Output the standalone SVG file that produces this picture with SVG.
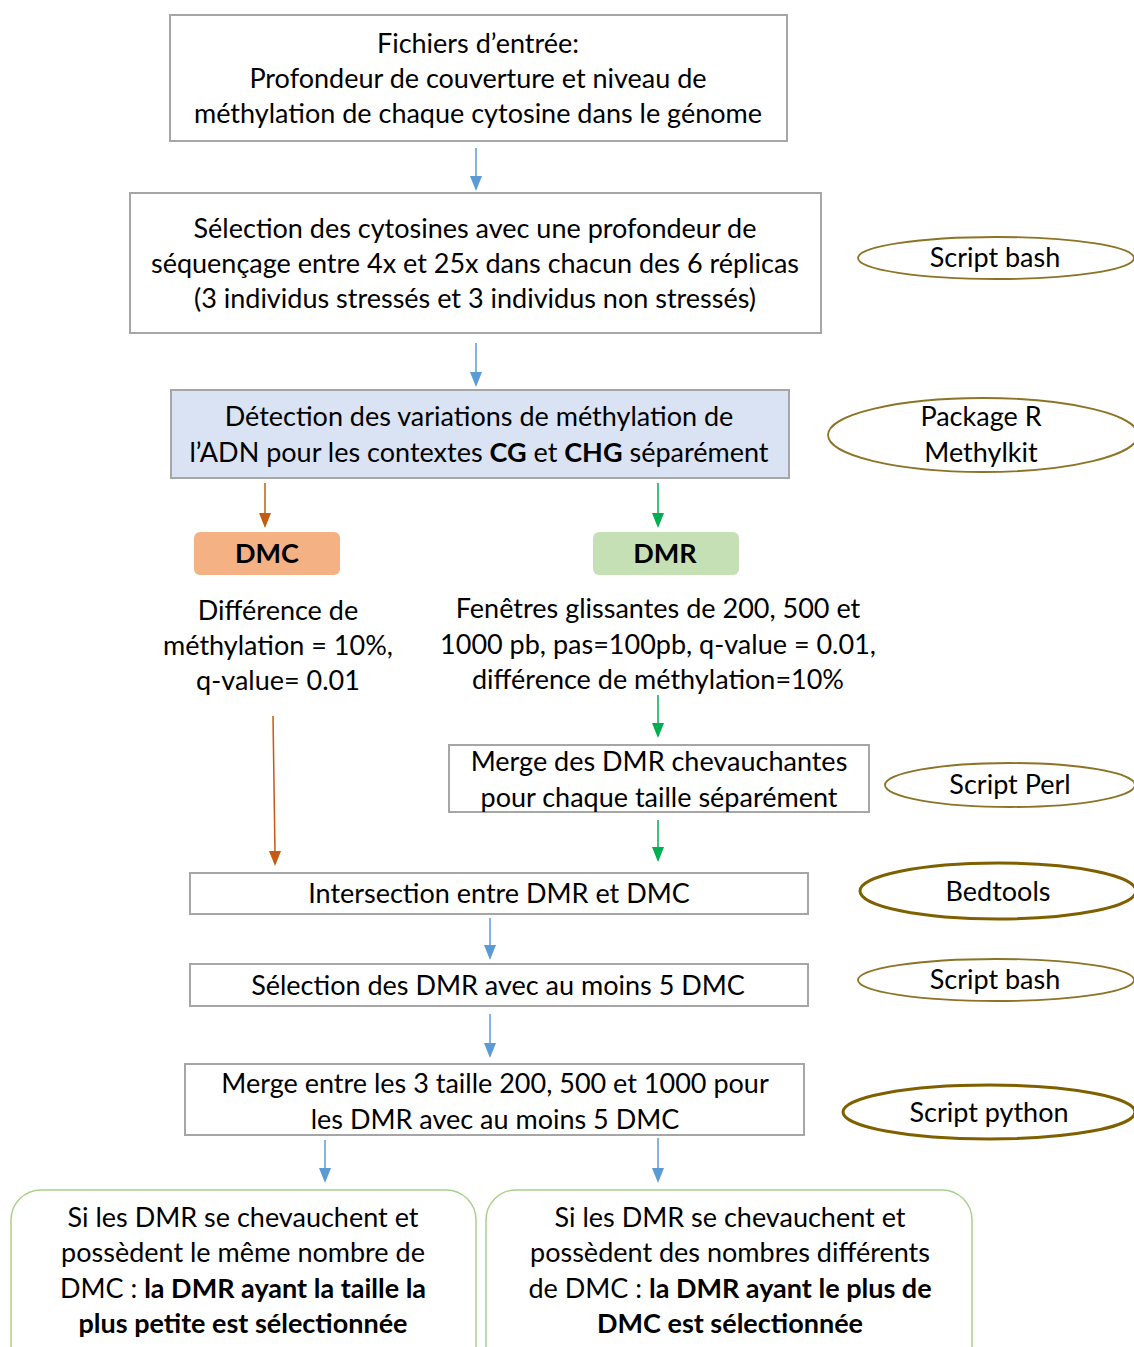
<svg xmlns="http://www.w3.org/2000/svg" width="1134" height="1347" viewBox="0 0 1134 1347">
<style>
text{font-family:Lato,"Liberation Sans",sans-serif;font-size:27px;fill:#000;text-anchor:middle;dominant-baseline:central}
.b{font-weight:bold}
.box{fill:#fff;stroke:#a6a6a6;stroke-width:2}
.ell{fill:#fff;stroke:#8c7326;stroke-width:1.8}
.ellb{fill:#fff;stroke:#7f6000;stroke-width:3}
.blue{stroke:#5b9bd5;stroke-width:1.5;fill:none}
.org{stroke:#c55a11;stroke-width:1.5;fill:none}
.grn{stroke:#00b050;stroke-width:1.5;fill:none}
.res{fill:#fff;stroke:#a9d18e;stroke-width:1.5}
</style>
<rect width="1134" height="1347" fill="#fff"/>
<g id="connectors">
<line class="blue" x1="476" y1="148" x2="476" y2="178"/><polygon points="470,176 482,176 476,191" fill="#5b9bd5"/>
<line class="blue" x1="476" y1="343" x2="476" y2="374"/><polygon points="470,372 482,372 476,387" fill="#5b9bd5"/>
<line class="org" x1="265" y1="483" x2="265" y2="515"/><polygon points="259,513 271,513 265,528" fill="#c55a11"/>
<line class="grn" x1="658" y1="483" x2="658" y2="515"/><polygon points="652,513 664,513 658,528" fill="#00b050"/>
<line class="grn" x1="658" y1="695" x2="658" y2="725"/><polygon points="652,723 664,723 658,738" fill="#00b050"/>
<line class="org" x1="273" y1="716" x2="275" y2="853"/><polygon points="269,851 281,851 275,866" fill="#c55a11"/>
<line class="grn" x1="658" y1="820" x2="658" y2="849"/><polygon points="652,847 664,847 658,862" fill="#00b050"/>
<line class="blue" x1="490" y1="918" x2="490" y2="947"/><polygon points="484,945 496,945 490,960" fill="#5b9bd5"/>
<line class="blue" x1="490" y1="1014" x2="490" y2="1045"/><polygon points="484,1043 496,1043 490,1058" fill="#5b9bd5"/>
<line class="blue" x1="325" y1="1140" x2="325" y2="1170"/><polygon points="319,1168 331,1168 325,1183" fill="#5b9bd5"/>
<line class="blue" x1="658" y1="1138" x2="658" y2="1170"/><polygon points="652,1168 664,1168 658,1183" fill="#5b9bd5"/>
</g>
<g id="n-input">
<rect class="box" x="170" y="15" width="617" height="126"/>
<text x="478" y="42">Fichiers d’entrée:</text>
<text x="478" y="77">Profondeur de couverture et niveau de</text>
<text x="478" y="112">méthylation de chaque cytosine dans le génome</text>
</g>
<g id="n-selection">
<rect class="box" x="130" y="193" width="691" height="140"/>
<text x="475" y="227">Sélection des cytosines avec une profondeur de</text>
<text x="475" y="262">séquençage entre 4x et 25x dans chacun des 6 réplicas</text>
<text x="475" y="297">(3 individus stressés et 3 individus non stressés)</text>
</g>
<g id="t-bash1">
<ellipse class="ell" cx="996" cy="258" rx="138" ry="21"/>
<text x="995" y="256">Script bash</text>
</g>
<g id="n-detection">
<rect x="171" y="390" width="618" height="88" fill="#dae3f3" stroke="#a6a6a6" stroke-width="2"/>
<text x="479" y="415">Détection des variations de méthylation de</text>
<text x="479" y="451">l’ADN pour les contextes <tspan class="b">CG</tspan> et <tspan class="b">CHG</tspan> séparément</text>
</g>
<g id="t-methylkit">
<ellipse class="ell" cx="983" cy="435" rx="155" ry="37"/>
<text x="981" y="415">Package R</text>
<text x="981" y="451">Methylkit</text>
</g>
<g id="n-dmc">
<rect x="194" y="532" width="146" height="43" rx="6" fill="#f4b183"/>
<text class="b" x="267" y="552">DMC</text>
</g>
<g id="n-dmr">
<rect x="593" y="532" width="146" height="43" rx="6" fill="#c5e0b4"/>
<text class="b" x="665" y="552">DMR</text>
</g>
<g id="t-dmc-params">
<text x="278" y="609">Différence de</text>
<text x="278" y="644">méthylation = 10%,</text>
<text x="278" y="679">q-value= 0.01</text>
</g>
<g id="t-dmr-params">
<text x="658" y="607">Fenêtres glissantes de 200, 500 et</text>
<text x="658" y="643">1000 pb, pas=100pb, q-value = 0.01,</text>
<text x="658" y="678">différence de méthylation=10%</text>
</g>
<g id="n-merge-dmr">
<rect class="box" x="449" y="745" width="420" height="67"/>
<text x="659" y="760">Merge des DMR chevauchantes</text>
<text x="659" y="796">pour chaque taille séparément</text>
</g>
<g id="t-perl">
<ellipse class="ell" cx="1010" cy="785" rx="125" ry="22"/>
<text x="1010" y="783">Script Perl</text>
</g>
<g id="n-intersection">
<rect class="box" x="190" y="873" width="618" height="41"/>
<text x="499" y="892">Intersection entre DMR et DMC</text>
</g>
<g id="t-bedtools">
<ellipse class="ellb" cx="998" cy="891" rx="138" ry="28"/>
<text x="998" y="890">Bedtools</text>
</g>
<g id="n-select5">
<rect class="box" x="190" y="964" width="618" height="42"/>
<text x="498" y="984">Sélection des DMR avec au moins 5 DMC</text>
</g>
<g id="t-bash2">
<ellipse class="ell" cx="996" cy="980" rx="138" ry="21"/>
<text x="995" y="978">Script bash</text>
</g>
<g id="n-merge3">
<rect class="box" x="185" y="1064" width="619" height="71"/>
<text x="495" y="1082">Merge entre les 3 taille 200, 500 et 1000 pour</text>
<text x="495" y="1118">les DMR avec au moins 5 DMC</text>
</g>
<g id="t-python">
<ellipse class="ellb" cx="989" cy="1112" rx="146" ry="27"/>
<text x="989" y="1111">Script python</text>
</g>
<g id="n-res-left">
<rect class="res" x="11" y="1190" width="465" height="190" rx="30"/>
<text x="243" y="1216">Si les DMR se chevauchent et</text>
<text x="243" y="1251">possèdent le même nombre de</text>
<text x="243" y="1287">DMC : <tspan class="b">la DMR ayant la taille la</tspan></text>
<text class="b" x="243" y="1322">plus petite est sélectionnée</text>
</g>
<g id="n-res-right">
<rect class="res" x="486" y="1190" width="486" height="190" rx="30"/>
<text x="730" y="1216">Si les DMR se chevauchent et</text>
<text x="730" y="1251">possèdent des nombres différents</text>
<text x="730" y="1287">de DMC : <tspan class="b">la DMR ayant le plus de</tspan></text>
<text class="b" x="730" y="1322">DMC est sélectionnée</text>
</g>
</svg>
